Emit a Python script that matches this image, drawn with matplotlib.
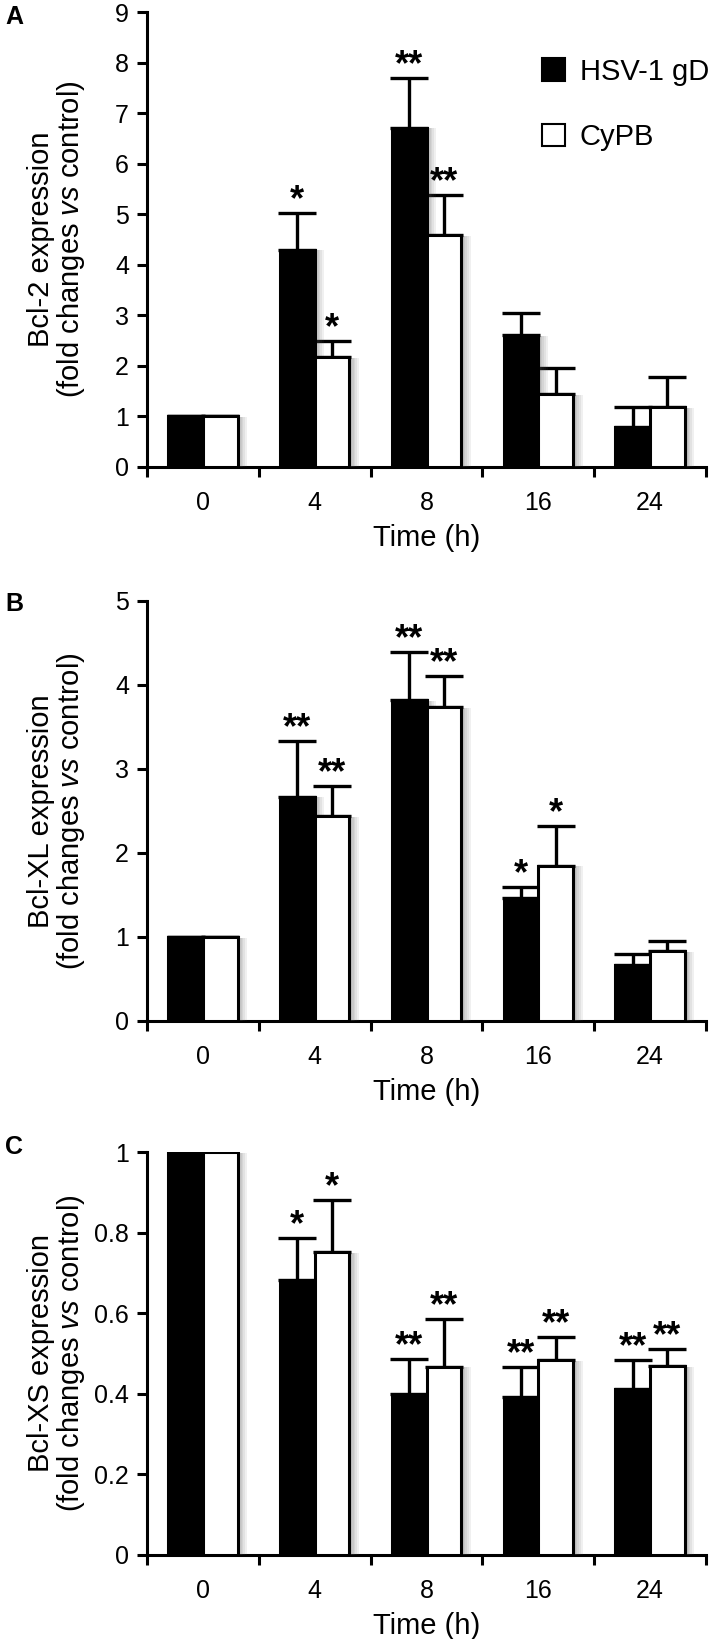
import numpy as np
import matplotlib
matplotlib.use("Agg")
import matplotlib.pyplot as plt
import matplotlib.patheffects as pe
from matplotlib.patches import Patch

plt.rcParams["font.family"] = ["Liberation Sans", "DejaVu Sans"]
plt.rcParams["mathtext.fontset"] = "custom"
plt.rcParams["mathtext.rm"] = "Liberation Sans"
plt.rcParams["mathtext.it"] = "Liberation Sans:italic"

times = ["0", "4", "8", "16", "24"]
series = ["HSV-1 gD", "CyPB"]

# panel A: Bcl-2
a_gd = [1.0, 4.30, 6.71, 2.61, 0.80]
a_gd_top = [1.0, 5.03, 7.70, 3.04, 1.18]
a_cy = [1.0, 2.17, 4.59, 1.44, 1.19]
a_cy_top = [1.0, 2.49, 5.38, 1.95, 1.79]
a_gd_sig = ["", "*", "**", "", ""]
a_cy_sig = ["", "*", "**", "", ""]

# panel B: Bcl-XL
b_gd = [1.0, 2.67, 3.82, 1.46, 0.67]
b_gd_top = [1.0, 3.33, 4.39, 1.60, 0.80]
b_cy = [1.0, 2.44, 3.74, 1.85, 0.83]
b_cy_top = [1.0, 2.80, 4.11, 2.32, 0.95]
b_gd_sig = ["", "**", "**", "*", ""]
b_cy_sig = ["", "**", "**", "*", ""]

# panel C: Bcl-XS
c_gd = [1.0, 0.683, 0.400, 0.393, 0.412]
c_gd_top = [1.0, 0.786, 0.487, 0.466, 0.485]
c_cy = [1.0, 0.752, 0.467, 0.483, 0.469]
c_cy_top = [1.0, 0.880, 0.585, 0.542, 0.511]
c_gd_sig = ["", "*", "**", "**", "**"]
c_cy_sig = ["", "*", "**", "**", "**"]

a_ticks = [0, 1, 2, 3, 4, 5, 6, 7, 8, 9]
b_ticks = [0, 1, 2, 3, 4, 5]
c_ticks = [0, 0.2, 0.4, 0.6, 0.8, 1]
c_ticklabels = ["0", "0.2", "0.4", "0.6", "0.8", "1"]

panels = [
    ("A", "Bcl-2 expression", a_gd, a_gd_top, a_cy, a_cy_top, a_gd_sig, a_cy_sig,
     a_ticks, [str(t) for t in a_ticks]),
    ("B", "Bcl-XL expression", b_gd, b_gd_top, b_cy, b_cy_top, b_gd_sig, b_cy_sig,
     b_ticks, [str(t) for t in b_ticks]),
    ("C", "Bcl-XS expression", c_gd, c_gd_top, c_cy, c_cy_top, c_gd_sig, c_cy_sig,
     c_ticks, c_ticklabels),
]

W, H = 709, 1639
fig = plt.figure(figsize=(W / 100, H / 100), dpi=100)

# axes boxes in pixels: left, top, right, bottom
boxes = [(147, 12, 706, 467), (147, 601, 706, 1021), (147, 1152, 706, 1555)]
letter_y = [17, 604, 1147]

x = np.arange(len(times))
bw = 0.31
# soft shadow on the right side of the bars
shadow = [pe.SimplePatchShadow(offset=(k, -0.5), shadow_rgbFace="0.35", alpha=0.09)
          for k in (7, 5.5, 4, 3, 2, 1)] + [pe.Normal()]

for (letter, name, gd, gd_top, cy, cy_top, gd_sig, cy_sig, yt, ytl), (l, t, r, b), ly in zip(
        panels, boxes, letter_y):
    ax = fig.add_axes([l / W, 1 - b / H, (r - l) / W, (b - t) / H])
    gd = np.array(gd); cy = np.array(cy)
    up_gd = np.array(gd_top) - gd
    up_cy = np.array(cy_top) - cy

    for xs, vals, up, col in [(x - bw / 2, gd, up_gd, "black"), (x + bw / 2, cy, up_cy, "white")]:
        ax.errorbar(xs, vals, yerr=[np.zeros_like(up), up], fmt="none", ecolor="black",
                    elinewidth=2.4, capsize=14, capthick=2.4, zorder=2)
        bars = ax.bar(xs, vals, width=bw, color=col, edgecolor="black", linewidth=2.2, zorder=3)
        for p in bars:
            p.set_path_effects(shadow)

    for xs, tops, sig in [(x - bw / 2, gd_top, gd_sig), (x + bw / 2, cy_top, cy_sig)]:
        for xi, ti, s in zip(xs, tops, sig):
            if s:
                ax.annotate(s, (xi, ti), xytext=(0, 2), textcoords="offset points",
                            ha="center", va="baseline", fontsize=26, fontweight="bold")

    ax.set_xlim(-0.5, 4.5)
    ax.set_ylim(0, yt[-1])
    ax.set_yticks(yt)
    ax.set_yticklabels(ytl)
    ax.set_xticks(np.arange(-0.5, 5, 1))
    ax.set_xticklabels([])
    ax.set_xticks(x, minor=True)
    ax.set_xticklabels(times, minor=True)
    ax.tick_params(axis="x", which="minor", length=0, pad=17, labelsize=18)
    ax.tick_params(axis="both", which="major", direction="out", length=7, width=2.2, labelsize=18)
    ax.tick_params(axis="y", pad=6)
    for s in ["top", "right"]:
        ax.spines[s].set_visible(False)
    for s in ["left", "bottom"]:
        ax.spines[s].set_linewidth(2.2)
    ax.set_xlabel("Time (h)", fontsize=21, labelpad=7)
    ax.set_ylabel(name + "\n(fold changes $\\mathit{vs}$ control)", fontsize=21,
                  linespacing=1.0)
    ax.yaxis.set_label_coords(-0.108, 0.5)
    fig.text(5 / W, 1 - ly / H, letter, fontsize=18, fontweight="bold", va="center", ha="left")

    if letter == "A":
        handles = [Patch(facecolor="black", edgecolor="black", linewidth=1.5),
                   Patch(facecolor="white", edgecolor="black", linewidth=1.5)]
        ax.legend(handles, series, loc="upper left", bbox_to_anchor=(0.706, 0.90),
                  frameon=False, fontsize=21, handlelength=0.8, handleheight=0.8,
                  handletextpad=0.5, labelspacing=1.3, borderpad=0, borderaxespad=0)

fig.savefig("out.png", dpi=100)
